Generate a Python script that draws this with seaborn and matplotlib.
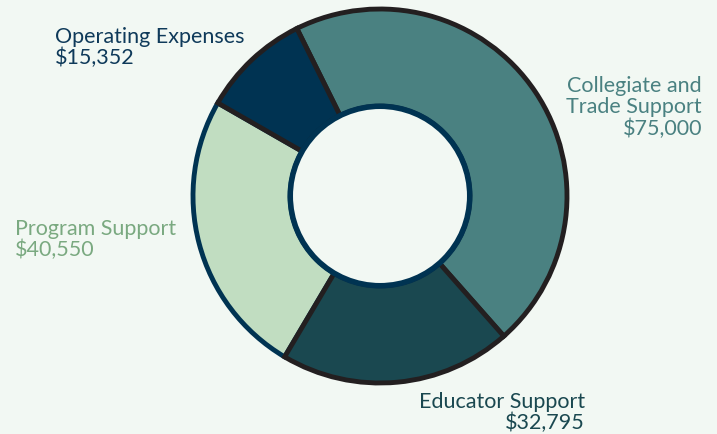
import matplotlib
matplotlib.use("Agg")
import matplotlib.pyplot as plt
import seaborn as sns
from matplotlib.patches import Circle

# Data
categories = ["Collegiate and\nTrade Support", "Educator Support", "Program Support", "Operating Expenses"]
amounts = [75000, 32795, 40550, 15352]
amount_labels = ["$75,000", "$32,795", "$40,550", "$15,352"]
slice_colors = ["#4a8181", "#1a4850", "#c1ddc1", "#003352"]
text_colors = ["#4a8181", "#1a4850", "#7aa980", "#0f3a5a"]

BG = "#f2f8f3"
EDGE = "#231f20"
NAVY = "#003352"

sns.set_theme(style="white")
plt.rcParams["font.family"] = ["Lato", "DejaVu Sans"]

fig = plt.figure(figsize=(7.17, 4.35), dpi=100)
fig.patch.set_facecolor(BG)
ax = fig.add_axes([0, 0, 1, 1])
ax.set_facecolor(BG)

cx, cy, r = 380, 238, 187
ring = 0.52 * r

wedges, _ = ax.pie(
    amounts,
    colors=slice_colors,
    startangle=116.4,
    counterclock=False,
    center=(cx, cy),
    radius=r,
    wedgeprops=dict(width=ring, edgecolor=EDGE, linewidth=3.5),
    frame=True,
)
# program support slice has a navy outline; keep dark edges of neighbours on top
wedges[2].set_edgecolor(NAVY)
wedges[2].set_zorder(1)
for i in (0, 1, 3):
    wedges[i].set_zorder(2)

ax.add_patch(Circle((cx, cy), r - ring, facecolor=BG, edgecolor=NAVY, linewidth=4, zorder=3))
ax.set_xlim(0, 717)
ax.set_ylim(0, 435)
ax.set_aspect("equal")
ax.axis("off")

fs = 15.5
ls = 1.07
# Collegiate
ax.text(702, 435 - 76, categories[0] + "\n" + amount_labels[0], ha="right", va="top",
        color=text_colors[0], fontsize=fs, linespacing=ls)
# Educator
ax.text(585, 435 - 392, categories[1] + "\n" + amount_labels[1], ha="right", va="top",
        color=text_colors[1], fontsize=fs, linespacing=ls, multialignment="right")
# Program
ax.text(15, 435 - 219, categories[2] + "\n" + amount_labels[2], ha="left", va="top",
        color=text_colors[2], fontsize=fs, linespacing=ls)
# Operating
ax.text(55, 435 - 27, categories[3] + "\n" + amount_labels[3], ha="left", va="top",
        color=text_colors[3], fontsize=fs, linespacing=ls)

fig.savefig("out.png", dpi=100, facecolor=BG)
